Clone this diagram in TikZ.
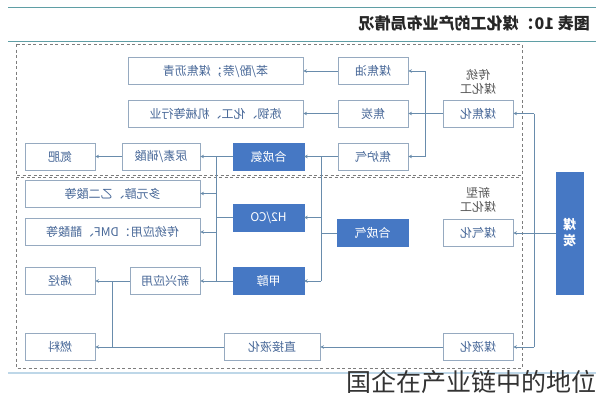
\documentclass[tikz,border=0pt]{standalone}
\usepackage{fontspec}
\usepackage{graphicx}
\setmainfont{Noto Sans CJK SC}
\usetikzlibrary{arrows.meta}
\newcommand\mir[1]{\reflectbox{#1}}
\definecolor{boxline}{RGB}{150,170,192}
\definecolor{conn}{RGB}{105,140,172}
\definecolor{boxtxt}{RGB}{72,104,152}
\definecolor{bluefill}{RGB}{70,120,196}
\definecolor{dashc}{RGB}{125,125,125}
\definecolor{teal}{RGB}{95,158,165}
\definecolor{lightb}{RGB}{190,215,232}
\definecolor{labelc}{RGB}{85,85,85}
\tikzset{
  wbox/.style={draw=boxline, line width=0.9pt, fill=white, text=boxtxt, font=\fontsize{12}{14}\selectfont, minimum height=27pt, inner sep=0pt},
  bbox/.style={draw=bluefill, fill=bluefill, text=white, font=\fontsize{12}{14}\selectfont, minimum height=27pt, inner sep=0pt},
  conline/.style={draw=conn, line width=0.8pt},
  arr/.style={conline, -{Stealth[length=3.5pt,width=3.5pt]}},
  dbox/.style={draw=dashc, line width=0.8pt, dash pattern=on 3pt off 2.5pt},
  grouplabel/.style={text=labelc, font=\fontsize{12}{14.5}\selectfont, align=center, inner sep=0pt}
}
\begin{document}
\begin{tikzpicture}[x=1pt,y=-1pt]
\useasboundingbox (0,0) rectangle (596,400);
% header lines and title
\draw[teal, line width=1pt] (8,7) -- (596,7);
\draw[teal, line width=1pt] (8,41) -- (596,41);
\node[anchor=east, inner sep=0pt, font=\fontsize{16}{18}\selectfont\bfseries, text=black!85] (title) at (590,23) {\mir{图表 10：煤化工的产业布局情况}};
% dashed group boxes
\draw[dbox] (16,44) rectangle (522,175);
\draw[dbox] (16,177) rectangle (522,368);
\draw[lightb, line width=1.2pt] (8,373) -- (596,373);
% group labels
\node[grouplabel] (lab1) at (478,82) {\mir{传统}\\\mir{煤化工}};
\node[grouplabel] (lab2) at (478,200) {\mir{新型}\\\mir{煤化工}};
% coal bar
\node[bbox, minimum width=27pt, minimum height=122pt, align=center, font=\fontsize{13}{16}\selectfont\bfseries] (coal) at (569.5,233) {\mir{煤}\\\mir{炭}};
% column of processes
\node[wbox, minimum width=70pt] (mjh) at (478,113.5) {\mir{煤焦化}};
\node[wbox, minimum width=70pt] (mqh) at (478,233) {\mir{煤气化}};
\node[wbox, minimum width=70pt] (myh) at (478,347) {\mir{煤液化}};
% intermediate products
\node[wbox, minimum width=70pt] (jyo) at (373,71) {\mir{煤焦油}};
\node[wbox, minimum width=70pt] (jt) at (373,113.5) {\mir{焦炭}};
\node[wbox, minimum width=70pt] (jlq) at (373,156.5) {\mir{焦炉气}};
\node[bbox, minimum width=71pt] (hcq) at (372.5,233) {\mir{合成气}};
\node[wbox, minimum width=96pt] (zjyh) at (272,347) {\mir{直接液化}};
% blue chemicals
\node[bbox, minimum width=71pt] (hca) at (268.5,156.5) {\mir{合成氨}};
\node[bbox, minimum width=71pt] (h2co) at (268.5,217.5) {\mir{H2/CO}};
\node[bbox, minimum width=71pt] (jc) at (268.5,281) {\mir{甲醇}};
% end uses
\node[wbox, minimum width=175pt] (bfn) at (215.5,71) {\mir{苯/酚/萘；煤焦沥青}};
\node[wbox, minimum width=175pt] (lg) at (215.5,113.5) {\mir{炼钢、化工、机械等行业}};
\node[wbox, minimum width=78pt] (nsxs) at (161,156.5) {\mir{尿素/硝酸}};
\node[wbox, minimum width=70pt] (df) at (60,156.5) {\mir{氮肥}};
\node[wbox, minimum width=175pt] (dyc) at (112.5,193.5) {\mir{多元醇、乙二酸等}};
\node[wbox, minimum width=175pt] (ctyy) at (112.5,232) {\mir{传统应用：DMF、醋酸等}};
\node[wbox, minimum width=70pt] (xxyy) at (165,281) {\mir{新兴应用}};
\node[wbox, minimum width=70pt] (xt) at (60,281) {\mir{烯烃}};
\node[wbox, minimum width=70pt] (rl) at (60,347) {\mir{燃料}};
% coordinates for junctions
\coordinate (ct1) at (534,113.5);
\coordinate (ct2) at (534,347);
\coordinate (jj) at (425,113.5);
\coordinate (jj1) at (425,71);
\coordinate (jj3) at (425,156.5);
\coordinate (sr1) at (321,156.5);
\coordinate (sr2) at (321,217.5);
\coordinate (sr3) at (321,233);
\coordinate (sr4) at (321,281);
\coordinate (sl1) at (216,156.5);
\coordinate (sl2) at (216,193.5);
\coordinate (sl3) at (216,217.5);
\coordinate (sl4) at (216,232);
\coordinate (sl5) at (216,281);
\coordinate (fl1) at (112,281);
\coordinate (fl2) at (112,347);
% coal connectors
\draw[conline] (ct1) -- (ct2);
\draw[arr] (ct1) -- (mjh.east);
\draw[arr] (coal.west) -- (mqh.east);
\draw[arr] (ct2) -- (myh.east);
% coking
\draw[conline] (mjh.west) -- (jj);
\draw[conline] (jj1) -- (jj3);
\draw[arr] (jj1) -- (jyo.east);
\draw[arr] (jj) -- (jt.east);
\draw[arr] (jj3) -- (jlq.east);
\draw[arr] (jyo.west) -- (bfn.east);
\draw[arr] (jt.west) -- (lg.east);
\draw[arr] (jlq.west) -- (hca.east);
% syngas
\draw[conline] (hcq.west) -- (sr3);
\draw[conline] (sr1) -- (sr4);
\draw[arr] (sr2) -- (h2co.east);
\draw[arr] (sr4) -- (jc.east);
% left distribution
\draw[conline] (sl1) -- (sl5);
\draw[arr] (hca.west) -- (nsxs.east);
\draw[arr] (sl2) -- (dyc.east);
\draw[conline] (h2co.west) -- (sl3);
\draw[arr] (sl4) -- (ctyy.east);
\draw[arr] (jc.west) -- (xxyy.east);
\draw[arr] (nsxs.west) -- (df.east);
\draw[arr] (xxyy.west) -- (xt.east);
% liquefaction
\draw[arr] (myh.west) -- (zjyh.east);
\draw[arr] (zjyh.west) -- (rl.east);
\draw[conline] (fl1) -- (fl2);
% overlay caption
\node[anchor=east, inner sep=0pt, font=\fontsize{25}{27}\selectfont, text=black!80] (cap) at (597,382) {国企在产业链中的地位};
\end{tikzpicture}
\end{document}
